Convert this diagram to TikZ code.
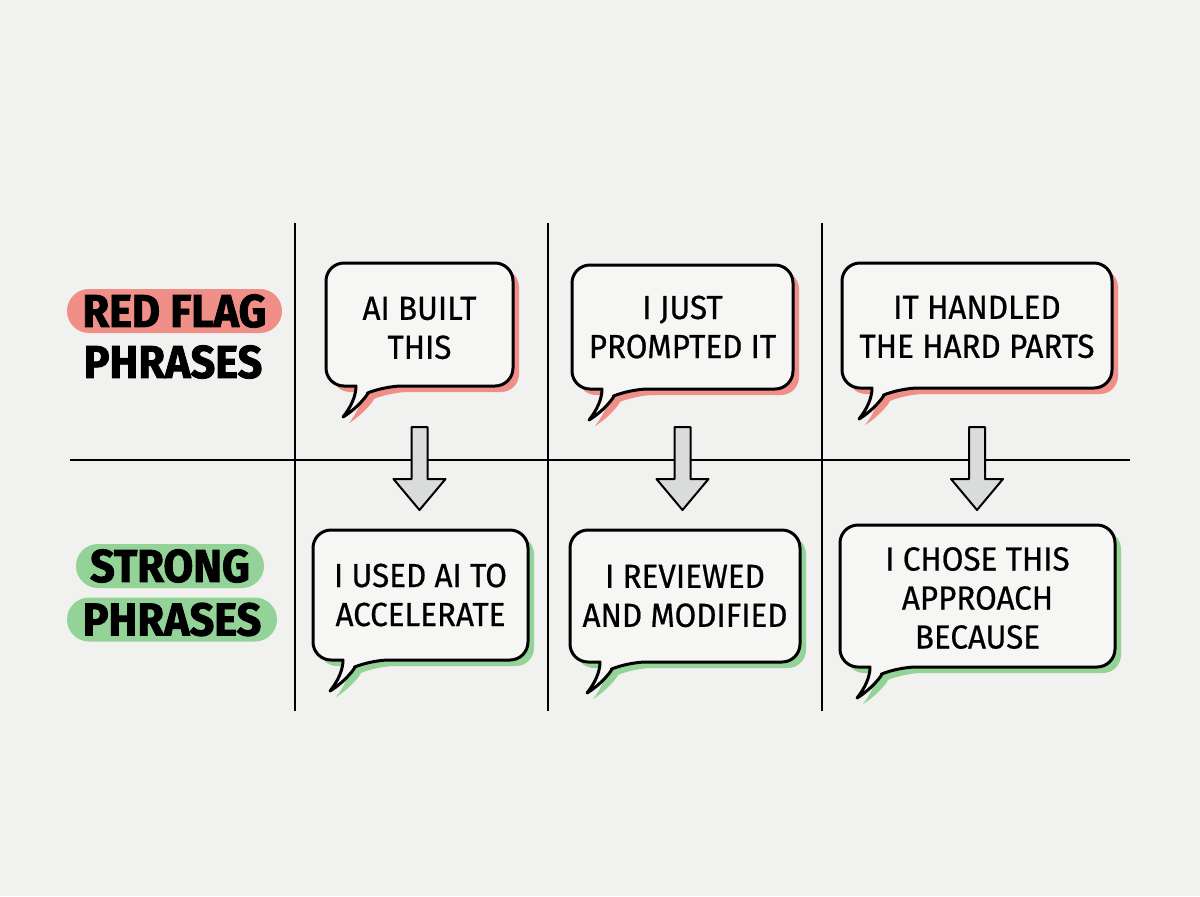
\documentclass[tikz,border=0pt]{standalone}
\usepackage{fontspec}
\setmainfont{Fira Sans}[FakeStretch=0.94, UprightFeatures={FakeBold=0.6}, BoldFeatures={FakeBold=1.8}]
\usetikzlibrary{calc}

\definecolor{bgcol}{RGB}{241,241,239}
\definecolor{redhl}{RGB}{240,142,136}
\definecolor{greenhl}{RGB}{148,211,151}
\definecolor{arrowgray}{RGB}{218,220,220}
\definecolor{bubblefill}{RGB}{246,246,244}

\tikzset{
    gridline/.style={line width=1.3pt},
    saying/.style={font=\fontsize{16.7}{19.5}\selectfont, align=center, inner sep=0pt},
    tag/.style={font=\fontsize{23}{25}\selectfont\bfseries, inner sep=0pt,
        minimum height=22pt, rounded corners=11pt},
    bubbleline/.style={fill=bubblefill, draw=black, line width=1.5pt, line join=round},
    downarrow/.style={fill=arrowgray, draw=black, line width=1pt, line join=round},
}

% outline of a speech bubble: left, top, right, bottom (pixels)
\newcommand\bubblepath[4]{[rounded corners=9pt] (#1+30,#4) -- (#1,#4) -- (#1,#2) -- (#3,#2)
    -- (#3,#4) -- (#1+58,#4) [sharp corners] .. controls (#1+44,#4+6) and (#1+32,#4+22)
    .. (#1+17,#4+31) .. controls (#1+25,#4+21) and (#1+30,#4+10) .. (#1+30,#4) -- cycle}

% bubble with coloured shadow
\newcommand\drawbubble[5]{%
    \fill[#5, shift={(6,6)}] \bubblepath{#1}{#2}{#3}{#4};
    \filldraw[bubbleline] \bubblepath{#1}{#2}{#3}{#4};
}

% block arrow from #1 down to #2
\newcommand\blockarrow[2]{%
    \draw[downarrow] ($(#1)+(-8,0)$) -- ($(#2)+(-8,-31)$) -- ($(#2)+(-26,-31)$)
        -- (#2) -- ($(#2)+(26,-31)$) -- ($(#2)+(8,-31)$) -- ($(#1)+(8,0)$) -- cycle;
}

\begin{document}
\begin{tikzpicture}[x=0.5pt, y=-0.5pt]
    \fill[bgcol] (0,0) rectangle (1200,896);

    % Draw grid
    \coordinate (gl) at (70,460);
    \coordinate (gr) at (1130,460);
    \draw[gridline] (gl) -- (gr);
    \foreach \gx in {295,548,822}
        \draw[gridline] (\gx,223) -- (\gx,711);

    % row labels
    \node[tag, fill=redhl, minimum width=107.5pt] (redtag) at (174.5,311) {RED FLAG};
    \node[tag] (redtag2) at (173,362) {PHRASES};
    \node[tag, fill=greenhl, minimum width=94pt] (strongtag) at (170,566) {STRONG};
    \node[tag, fill=greenhl, minimum width=105pt] (strongtag2) at (172,619.5) {PHRASES};

    % red flag bubbles
    \drawbubble{326}{263}{513}{386}{redhl}
    \drawbubble{572}{265}{793}{389}{redhl}
    \drawbubble{842}{263}{1112}{388}{redhl}
    \node[saying] (r1) at (419.5,328) {AI BUILT\\THIS};
    \node[saying] (r2) at (682.5,327) {I JUST\\PROMPTED IT};
    \node[saying] (r3) at (977,327) {IT HANDLED\\THE HARD PARTS};

    % strong bubbles
    \drawbubble{313}{530}{528}{660}{greenhl}
    \drawbubble{570}{530}{800}{662}{greenhl}
    \drawbubble{840}{525}{1115}{667}{greenhl}
    \node[saying] (s1) at (420.5,595) {I USED AI TO\\ACCELERATE};
    \node[saying] (s2) at (685,596) {I REVIEWED\\AND MODIFIED};
    \node[saying] (s3) at (977.5,598) {I CHOSE THIS\\APPROACH\\BECAUSE};

    % arrows between rows
    \foreach \i in {1,2,3} {
        \coordinate (a\i) at ($(r\i.center |- 0,427)$);
        \coordinate (b\i) at ($(r\i.center |- 0,510)$);
        \blockarrow{a\i}{b\i}
    }
\end{tikzpicture}
\end{document}
